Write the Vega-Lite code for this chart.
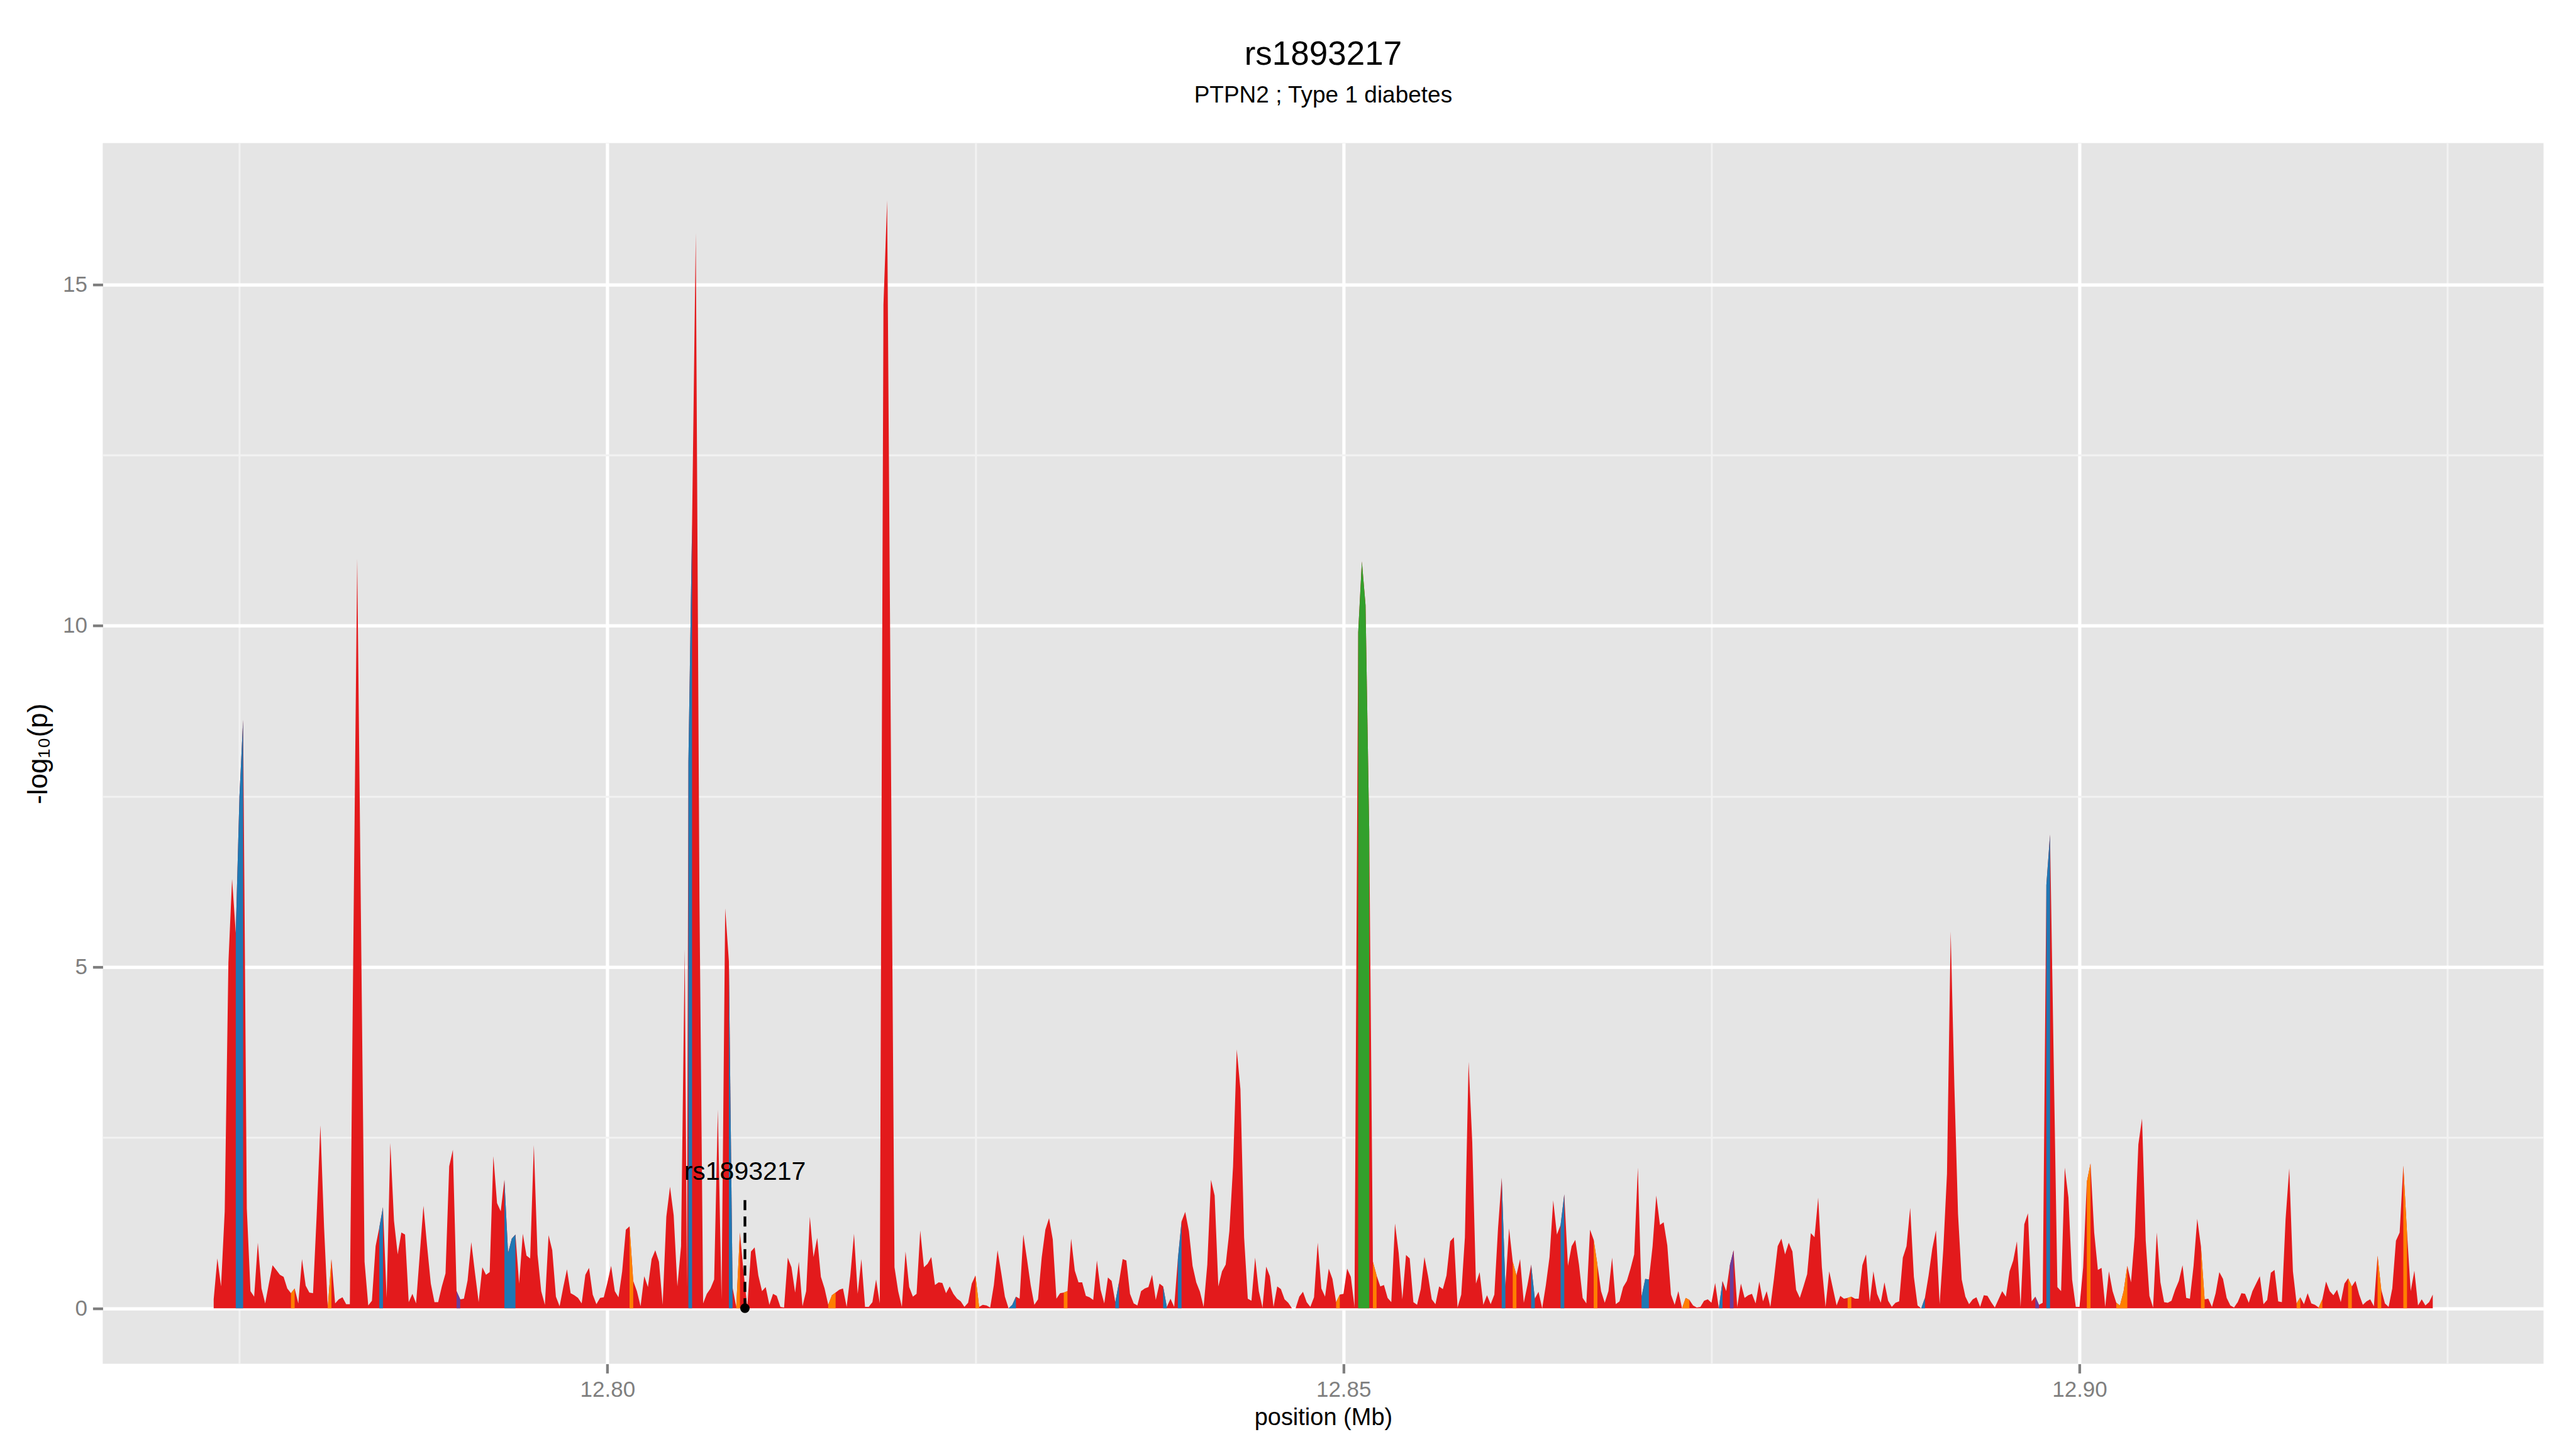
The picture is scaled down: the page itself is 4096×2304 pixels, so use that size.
{
"$schema": "https://vega.github.io/schema/vega-lite/v6.json",
"width": 3881, "height": 1941,
"autosize": {"type": "none"},
"padding": {"left": 163.4, "top": 227.6, "right": 51.3, "bottom": 135.2},
"background": "white",
"title": {"text": "rs1893217", "subtitle": "PTPN2 ; Type 1 diabetes", "anchor": "middle", "frame": "group", "font": "Liberation Sans", "fontSize": 53, "fontWeight": "normal", "color": "#000000", "subtitleFont": "Liberation Sans", "subtitleFontSize": 37, "subtitleColor": "#000000", "subtitlePadding": 20, "offset": 58},
"config": {"view": {"fill": "#E5E5E5", "stroke": null}, "font": "Liberation Sans"},
"datasets": {
"red": [
{"x":12.77325,"y":0.13},{"x":12.7735,"y":0.73},{"x":12.77375,"y":0.32},{"x":12.774,"y":1.42},{"x":12.77425,"y":5.06},{"x":12.7745,"y":6.29},{"x":12.77475,"y":5.5},{"x":12.775,"y":7.5},{"x":12.77525,"y":8.62},{"x":12.7755,"y":1.46},{"x":12.77575,"y":0.25},{"x":12.776,"y":0.17},{"x":12.77625,"y":0.96},{"x":12.7765,"y":0.29},{"x":12.77675,"y":0.07},{"x":12.777,"y":0.36},{"x":12.77725,"y":0.63},{"x":12.7775,"y":0.56},{"x":12.77775,"y":0.49},{"x":12.778,"y":0.46},{"x":12.77825,"y":0.29},{"x":12.7785,"y":0.22},{"x":12.77875,"y":0.29},{"x":12.779,"y":0.07},{"x":12.77925,"y":0.72},{"x":12.7795,"y":0.33},{"x":12.77975,"y":0.23},{"x":12.78,"y":0.22},{"x":12.78025,"y":1.38},{"x":12.7805,"y":2.68},{"x":12.78075,"y":1.18},{"x":12.781,"y":0.01},{"x":12.78125,"y":0.72},{"x":12.7815,"y":0.07},{"x":12.78175,"y":0.13},{"x":12.782,"y":0.16},{"x":12.78225,"y":0.06},{"x":12.7825,"y":0.06},{"x":12.78275,"y":5.6},{"x":12.783,"y":10.98},{"x":12.78325,"y":5.8},{"x":12.7835,"y":0.68},{"x":12.78375,"y":0.04},{"x":12.784,"y":0.11},{"x":12.78425,"y":0.91},{"x":12.7845,"y":1.18},{"x":12.78475,"y":1.48},{"x":12.785,"y":0.15},{"x":12.78525,"y":2.42},{"x":12.7855,"y":1.28},{"x":12.78575,"y":0.79},{"x":12.786,"y":1.11},{"x":12.78625,"y":1.08},{"x":12.7865,"y":0.09},{"x":12.78675,"y":0.21},{"x":12.787,"y":0.07},{"x":12.78725,"y":0.79},{"x":12.7875,"y":1.5},{"x":12.78775,"y":0.91},{"x":12.788,"y":0.36},{"x":12.78825,"y":0.09},{"x":12.7885,"y":0.09},{"x":12.78875,"y":0.32},{"x":12.789,"y":0.51},{"x":12.78925,"y":2.08},{"x":12.7895,"y":2.32},{"x":12.78975,"y":0.25},{"x":12.79,"y":0.13},{"x":12.79025,"y":0.14},{"x":12.7905,"y":0.41},{"x":12.79075,"y":0.97},{"x":12.791,"y":0.52},{"x":12.79125,"y":0.09},{"x":12.7915,"y":0.6},{"x":12.79175,"y":0.49},{"x":12.792,"y":0.53},{"x":12.79225,"y":2.23},{"x":12.7925,"y":1.54},{"x":12.79275,"y":1.42},{"x":12.793,"y":1.88},{"x":12.79325,"y":0.81},{"x":12.7935,"y":1.02},{"x":12.79375,"y":1.08},{"x":12.794,"y":0.36},{"x":12.79425,"y":1.09},{"x":12.7945,"y":0.77},
{"x":12.79475,"y":0.73},{"x":12.795,"y":2.39},{"x":12.79525,"y":0.79},{"x":12.7955,"y":0.25},{"x":12.79575,"y":0.05},{"x":12.796,"y":1.07},{"x":12.79625,"y":0.85},{"x":12.7965,"y":0.17},{"x":12.79675,"y":0.03},{"x":12.797,"y":0.31},{"x":12.79725,"y":0.57},{"x":12.7975,"y":0.22},{"x":12.79775,"y":0.19},{"x":12.798,"y":0.15},{"x":12.79825,"y":0.07},{"x":12.7985,"y":0.49},{"x":12.79875,"y":0.59},{"x":12.799,"y":0.2},{"x":12.79925,"y":0.06},{"x":12.7995,"y":0.15},{"x":12.79975,"y":0.16},{"x":12.8,"y":0.38},{"x":12.80025,"y":0.62},{"x":12.8005,"y":0.25},{"x":12.80075,"y":0.16},{"x":12.801,"y":0.54},{"x":12.80125,"y":1.15},{"x":12.8015,"y":1.2},{"x":12.80175,"y":0.4},{"x":12.802,"y":0.25},{"x":12.80225,"y":0.03},{"x":12.8025,"y":0.47},{"x":12.80275,"y":0.31},{"x":12.803,"y":0.72},{"x":12.80325,"y":0.85},{"x":12.8035,"y":0.68},{"x":12.80375,"y":0.05},{"x":12.804,"y":1.34},{"x":12.80425,"y":1.78},{"x":12.8045,"y":1.36},{"x":12.80475,"y":0.32},{"x":12.805,"y":0.91},{"x":12.80525,"y":5.26},{"x":12.8054,"y":0.3},{"x":12.8055,"y":8.0},{"x":12.80575,"y":11.5},{"x":12.806,"y":15.75},{"x":12.80625,"y":6.0},{"x":12.8065,"y":0.07},{"x":12.80675,"y":0.21},{"x":12.807,"y":0.29},{"x":12.80725,"y":0.42},{"x":12.8075,"y":2.91},{"x":12.80775,"y":0.13},{"x":12.808,"y":5.86},{"x":12.80825,"y":5.08},{"x":12.8085,"y":0.3},{"x":12.80875,"y":0.02},{"x":12.809,"y":1.11},{"x":12.80925,"y":0.52},{"x":12.8095,"y":0.02},{"x":12.80975,"y":0.83},{"x":12.81,"y":0.89},{"x":12.81025,"y":0.48},{"x":12.8105,"y":0.25},{"x":12.81075,"y":0.31},{"x":12.811,"y":0.05},{"x":12.81125,"y":0.21},{"x":12.8115,"y":0.18},{"x":12.81175,"y":0.02},{"x":12.812,"y":0.01},{"x":12.81225,"y":0.74},{"x":12.8125,"y":0.6},{"x":12.81275,"y":0.23},{"x":12.813,"y":0.68},{"x":12.81325,"y":0.03},{"x":12.8135,"y":0.25},{"x":12.81375,"y":1.34},{"x":12.814,"y":0.75},{"x":12.81425,"y":1.03},{"x":12.8145,"y":0.46},{"x":12.81475,"y":0.29},{"x":12.815,"y":0.05},{"x":12.81525,"y":0.19},{"x":12.8155,"y":0.23},{"x":12.81575,"y":0.27},{"x":12.816,"y":0.29},{"x":12.81625,"y":0.02},{"x":12.8165,"y":0.48},{"x":12.81675,"y":1.09},{"x":12.817,"y":0.21},{"x":12.81725,"y":0.72},{"x":12.8175,"y":0.02},{"x":12.81775,"y":0.02},{"x":12.818,"y":0.09},{"x":12.81825,"y":0.42},{"x":12.8185,"y":0.07},{"x":12.81875,"y":14.7},{"x":12.819,"y":16.23},{"x":12.81925,"y":8.4},{"x":12.8195,"y":0.6},{"x":12.81975,"y":0.25},{"x":12.82,"y":0.02},{"x":12.82025,"y":0.83},{"x":12.8205,"y":0.31},{"x":12.82075,"y":0.17},{"x":12.821,"y":0.21},{"x":12.82125,"y":1.14},{"x":12.8215,"y":0.6},{"x":12.82175,"y":0.65},{"x":12.822,"y":0.75},{"x":12.82225,"y":0.34},{"x":12.8225,"y":0.38},{"x":12.82275,"y":0.37},{"x":12.823,"y":0.22},{"x":12.82325,"y":0.32},
{"x":12.8235,"y":0.21},{"x":12.82375,"y":0.14},{"x":12.824,"y":0.1},{"x":12.82425,"y":0.02},{"x":12.8245,"y":0.08},{"x":12.82475,"y":0.36},{"x":12.825,"y":0.48},{"x":12.82525,"y":0.02},{"x":12.8255,"y":0.05},{"x":12.82575,"y":0.04},{"x":12.826,"y":0.01},{"x":12.82625,"y":0.34},{"x":12.8265,"y":0.85},{"x":12.82675,"y":0.52},{"x":12.827,"y":0.17},{"x":12.82725,"y":0.0},{"x":12.8275,"y":0.05},{"x":12.82775,"y":0.17},{"x":12.828,"y":0.14},{"x":12.82825,"y":1.08},{"x":12.8285,"y":0.72},{"x":12.82875,"y":0.34},{"x":12.829,"y":0.05},{"x":12.82925,"y":0.13},{"x":12.8295,"y":0.74},{"x":12.82975,"y":1.15},{"x":12.83,"y":1.32},{"x":12.83025,"y":1.01},{"x":12.8305,"y":0.14},{"x":12.83075,"y":0.22},{"x":12.831,"y":0.23},{"x":12.83125,"y":0.25},{"x":12.8315,"y":1.02},{"x":12.83175,"y":0.55},{"x":12.832,"y":0.38},{"x":12.83225,"y":0.38},{"x":12.8325,"y":0.18},{"x":12.83275,"y":0.16},{"x":12.833,"y":0.12},{"x":12.83325,"y":0.7},{"x":12.8335,"y":0.27},{"x":12.83375,"y":0.07},{"x":12.834,"y":0.45},{"x":12.83425,"y":0.4},{"x":12.8345,"y":0.09},{"x":12.83475,"y":0.38},{"x":12.835,"y":0.72},{"x":12.83525,"y":0.7},{"x":12.8355,"y":0.21},{"x":12.83575,"y":0.07},{"x":12.836,"y":0.04},{"x":12.83625,"y":0.25},{"x":12.8365,"y":0.29},{"x":12.83675,"y":0.31},{"x":12.837,"y":0.49},{"x":12.83725,"y":0.12},{"x":12.8375,"y":0.36},{"x":12.83775,"y":0.32},{"x":12.838,"y":0.02},{"x":12.83825,"y":0.14},{"x":12.8385,"y":0.02},{"x":12.83875,"y":0.72},{"x":12.839,"y":1.27},{"x":12.83925,"y":1.41},{"x":12.8395,"y":1.13},{"x":12.83975,"y":0.62},{"x":12.84,"y":0.38},{"x":12.84025,"y":0.24},{"x":12.8405,"y":0.02},{"x":12.84075,"y":0.64},{"x":12.841,"y":1.88},{"x":12.84125,"y":1.65},{"x":12.8415,"y":0.32},{"x":12.84175,"y":0.54},{"x":12.842,"y":0.64},{"x":12.84225,"y":1.13},{"x":12.8425,"y":2.08},{"x":12.84275,"y":3.79},{"x":12.843,"y":3.21},{"x":12.84325,"y":1.04},{"x":12.8435,"y":0.14},{"x":12.84375,"y":0.11},{"x":12.844,"y":0.74},{"x":12.84425,"y":0.25},{"x":12.8445,"y":0.01},{"x":12.84475,"y":0.61},{"x":12.845,"y":0.47},{"x":12.84525,"y":0.02},{"x":12.8455,"y":0.32},{"x":12.84575,"y":0.28},{"x":12.846,"y":0.13},{"x":12.84625,"y":0.08},{"x":12.8465,"y":0.0},{"x":12.84675,"y":0.0},{"x":12.847,"y":0.17},{"x":12.84725,"y":0.24},{"x":12.8475,"y":0.09},{"x":12.84775,"y":0.02},{"x":12.848,"y":0.16},{"x":12.84825,"y":0.96},{"x":12.8485,"y":0.29},{"x":12.84875,"y":0.17},{"x":12.849,"y":0.58},{"x":12.84925,"y":0.43},{"x":12.8495,"y":0.09},{"x":12.84975,"y":0.2},{"x":12.85,"y":0.21},{"x":12.85025,"y":0.58},{"x":12.8505,"y":0.46},{"x":12.85075,"y":0.02},{"x":12.851,"y":9.9},{"x":12.85125,"y":10.94},{"x":12.8515,"y":10.3},{"x":12.85175,"y":7.0},{"x":12.852,"y":0.68},{"x":12.85225,"y":0.48},
{"x":12.8525,"y":0.32},{"x":12.85275,"y":0.34},{"x":12.853,"y":0.15},{"x":12.85325,"y":0.09},{"x":12.8535,"y":1.24},{"x":12.85375,"y":0.81},{"x":12.854,"y":0.13},{"x":12.85425,"y":0.78},{"x":12.8545,"y":0.73},{"x":12.85475,"y":0.09},{"x":12.855,"y":0.05},{"x":12.85525,"y":0.28},{"x":12.8555,"y":0.75},{"x":12.85575,"y":0.47},{"x":12.856,"y":0.13},{"x":12.85625,"y":0.06},{"x":12.8565,"y":0.32},{"x":12.85675,"y":0.28},{"x":12.857,"y":0.48},{"x":12.85725,"y":0.98},{"x":12.8575,"y":1.04},{"x":12.85775,"y":0.01},{"x":12.858,"y":0.2},{"x":12.85825,"y":1.04},{"x":12.8585,"y":3.61},{"x":12.85875,"y":2.43},{"x":12.859,"y":0.36},{"x":12.85925,"y":0.53},{"x":12.8595,"y":0.05},{"x":12.85975,"y":0.19},{"x":12.86,"y":0.06},{"x":12.86025,"y":0.2},{"x":12.8605,"y":1.17},{"x":12.86075,"y":1.91},{"x":12.861,"y":0.32},{"x":12.86125,"y":1.17},{"x":12.8615,"y":0.68},{"x":12.86175,"y":0.48},{"x":12.862,"y":0.72},{"x":12.86225,"y":0.08},{"x":12.8625,"y":0.34},{"x":12.86275,"y":0.64},{"x":12.863,"y":0.14},{"x":12.86325,"y":0.24},{"x":12.8635,"y":0.0},{"x":12.86375,"y":0.34},{"x":12.864,"y":0.75},{"x":12.86425,"y":1.58},{"x":12.8645,"y":1.08},{"x":12.86475,"y":1.22},{"x":12.865,"y":1.67},{"x":12.86525,"y":0.62},{"x":12.8655,"y":0.91},{"x":12.86575,"y":1.0},{"x":12.866,"y":0.64},{"x":12.86625,"y":0.15},{"x":12.8665,"y":0.07},{"x":12.86675,"y":1.15},{"x":12.867,"y":1.0},{"x":12.86725,"y":0.64},{"x":12.8675,"y":0.25},{"x":12.86775,"y":0.08},{"x":12.868,"y":0.25},{"x":12.86825,"y":0.74},{"x":12.8685,"y":0.06},{"x":12.86875,"y":0.1},{"x":12.869,"y":0.31},{"x":12.86925,"y":0.4},{"x":12.8695,"y":0.58},{"x":12.86975,"y":0.79},{"x":12.87,"y":2.06},{"x":12.87025,"y":0.17},{"x":12.8705,"y":0.43},{"x":12.87075,"y":0.42},{"x":12.871,"y":0.91},{"x":12.87125,"y":1.65},{"x":12.8715,"y":1.22},{"x":12.87175,"y":1.26},{"x":12.872,"y":0.92},{"x":12.87225,"y":0.2},{"x":12.8725,"y":0.05},{"x":12.87275,"y":0.25},{"x":12.873,"y":0.0},{"x":12.87325,"y":0.15},{"x":12.8735,"y":0.12},{"x":12.87375,"y":0.04},{"x":12.874,"y":0.01},{"x":12.87425,"y":0.02},{"x":12.8745,"y":0.11},{"x":12.87475,"y":0.13},{"x":12.875,"y":0.08},{"x":12.87525,"y":0.37},{"x":12.8755,"y":0.0},{"x":12.87575,"y":0.4},{"x":12.876,"y":0.25},{"x":12.87625,"y":0.63},{"x":12.8765,"y":0.85},{"x":12.87675,"y":0.02},{"x":12.877,"y":0.36},{"x":12.87725,"y":0.15},{"x":12.8775,"y":0.19},{"x":12.87775,"y":0.21},{"x":12.878,"y":0.07},{"x":12.87825,"y":0.39},{"x":12.8785,"y":0.1},{"x":12.87875,"y":0.25},{"x":12.879,"y":0.02},{"x":12.87925,"y":0.44},{"x":12.8795,"y":0.91},{"x":12.87975,"y":1.02},{"x":12.88,"y":0.79},{"x":12.88025,"y":0.96},{"x":12.8805,"y":0.83},{"x":12.88075,"y":0.27},{"x":12.881,"y":0.15},
{"x":12.88125,"y":0.32},{"x":12.8815,"y":0.5},{"x":12.88175,"y":1.1},{"x":12.882,"y":1.04},{"x":12.88225,"y":1.62},{"x":12.8825,"y":0.6},{"x":12.88275,"y":0.02},{"x":12.883,"y":0.54},{"x":12.88325,"y":0.29},{"x":12.8835,"y":0.04},{"x":12.88375,"y":0.18},{"x":12.884,"y":0.14},{"x":12.88425,"y":0.15},{"x":12.8845,"y":0.17},{"x":12.88475,"y":0.14},{"x":12.885,"y":0.14},{"x":12.88525,"y":0.63},{"x":12.8855,"y":0.79},{"x":12.88575,"y":0.09},{"x":12.886,"y":0.54},{"x":12.88625,"y":0.21},{"x":12.8865,"y":0.08},{"x":12.88675,"y":0.38},{"x":12.887,"y":0.11},{"x":12.88725,"y":0.02},{"x":12.8875,"y":0.08},{"x":12.88775,"y":0.1},{"x":12.888,"y":0.74},{"x":12.88825,"y":0.91},{"x":12.8885,"y":1.47},{"x":12.88875,"y":0.46},{"x":12.889,"y":0.04},{"x":12.88925,"y":0.0},{"x":12.8895,"y":0.15},{"x":12.88975,"y":0.48},{"x":12.89,"y":0.87},{"x":12.89025,"y":1.14},{"x":12.8905,"y":0.06},{"x":12.89075,"y":0.87},{"x":12.891,"y":1.97},{"x":12.89125,"y":5.52},{"x":12.8915,"y":3.26},{"x":12.89175,"y":1.38},{"x":12.892,"y":0.42},{"x":12.89225,"y":0.17},{"x":12.8925,"y":0.06},{"x":12.89275,"y":0.13},{"x":12.893,"y":0.16},{"x":12.89325,"y":0.02},{"x":12.8935,"y":0.19},{"x":12.89375,"y":0.18},{"x":12.894,"y":0.09},{"x":12.89425,"y":0.01},{"x":12.8945,"y":0.13},{"x":12.89475,"y":0.25},{"x":12.895,"y":0.17},{"x":12.89525,"y":0.54},{"x":12.8955,"y":0.7},{"x":12.89575,"y":0.98},{"x":12.896,"y":0.02},{"x":12.89625,"y":1.23},{"x":12.8965,"y":1.39},{"x":12.89675,"y":0.1},{"x":12.897,"y":0.17},{"x":12.89725,"y":0.05},{"x":12.8975,"y":0.08},{"x":12.89775,"y":6.2},{"x":12.898,"y":6.94},{"x":12.89825,"y":3.6},{"x":12.8985,"y":0.31},{"x":12.89875,"y":0.25},{"x":12.899,"y":2.06},{"x":12.89925,"y":1.62},{"x":12.8995,"y":0.42},{"x":12.89975,"y":0.02},{"x":12.9,"y":0.02},{"x":12.90025,"y":0.6},{"x":12.9005,"y":1.85},{"x":12.90075,"y":2.12},{"x":12.901,"y":1.11},{"x":12.90125,"y":0.56},{"x":12.9015,"y":0.59},{"x":12.90175,"y":0.02},{"x":12.902,"y":0.54},{"x":12.90225,"y":0.25},{"x":12.9025,"y":0.08},{"x":12.90275,"y":0.04},{"x":12.903,"y":0.25},{"x":12.90325,"y":0.62},{"x":12.9035,"y":0.38},{"x":12.90375,"y":1.05},{"x":12.904,"y":2.4},{"x":12.90425,"y":2.78},{"x":12.9045,"y":0.99},{"x":12.90475,"y":0.18},{"x":12.905,"y":0.01},{"x":12.90525,"y":1.11},{"x":12.9055,"y":0.38},{"x":12.90575,"y":0.09},{"x":12.906,"y":0.08},{"x":12.90625,"y":0.11},{"x":12.9065,"y":0.27},{"x":12.90675,"y":0.4},{"x":12.907,"y":0.63},{"x":12.90725,"y":0.15},{"x":12.9075,"y":0.14},{"x":12.90775,"y":0.62},{"x":12.908,"y":1.31},{"x":12.90825,"y":0.91},{"x":12.9085,"y":0.13},{"x":12.90875,"y":0.14},{"x":12.909,"y":0.02},{"x":12.90925,"y":0.22},{"x":12.9095,"y":0.53},{"x":12.90975,"y":0.43},
{"x":12.91,"y":0.15},{"x":12.91025,"y":0.04},{"x":12.9105,"y":0.01},{"x":12.91075,"y":0.09},{"x":12.911,"y":0.22},{"x":12.91125,"y":0.21},{"x":12.9115,"y":0.08},{"x":12.91175,"y":0.25},{"x":12.912,"y":0.36},{"x":12.91225,"y":0.47},{"x":12.9125,"y":0.06},{"x":12.91275,"y":0.12},{"x":12.913,"y":0.52},{"x":12.91325,"y":0.56},{"x":12.9135,"y":0.1},{"x":12.91375,"y":0.09},{"x":12.914,"y":1.3},{"x":12.91425,"y":2.05},{"x":12.9145,"y":0.54},{"x":12.91475,"y":0.07},{"x":12.915,"y":0.16},{"x":12.91525,"y":0.06},{"x":12.9155,"y":0.22},{"x":12.91575,"y":0.07},{"x":12.916,"y":0.05},{"x":12.91625,"y":0.01},{"x":12.9165,"y":0.13},{"x":12.91675,"y":0.39},{"x":12.917,"y":0.25},{"x":12.91725,"y":0.19},{"x":12.9175,"y":0.27},{"x":12.91775,"y":0.09},{"x":12.918,"y":0.36},{"x":12.91825,"y":0.44},{"x":12.9185,"y":0.32},{"x":12.91875,"y":0.4},{"x":12.919,"y":0.2},{"x":12.91925,"y":0.05},{"x":12.9195,"y":0.1},{"x":12.91975,"y":0.13},{"x":12.92,"y":0.03},{"x":12.92025,"y":0.77},{"x":12.9205,"y":0.27},{"x":12.92075,"y":0.07},{"x":12.921,"y":0.02},{"x":12.92125,"y":0.29},{"x":12.9215,"y":0.99},{"x":12.92175,"y":1.11},{"x":12.922,"y":2.09},{"x":12.92225,"y":1.11},{"x":12.9225,"y":0.25},{"x":12.92275,"y":0.55},{"x":12.923,"y":0.04},{"x":12.92325,"y":0.13},{"x":12.9235,"y":0.04},{"x":12.92375,"y":0.09},{"x":12.924,"y":0.2}
],
"strips": [
{"s":1,"c":"blue","x":12.77475,"y":5.5},{"s":1,"c":"blue","x":12.775,"y":7.5},{"s":1,"c":"blue","x":12.77525,"y":8.62},
{"s":2,"c":"orange","x":12.7785,"y":0.22},{"s":2,"c":"orange","x":12.77875,"y":0.29},
{"s":3,"c":"orange","x":12.781,"y":0.01},{"s":3,"c":"orange","x":12.78125,"y":0.72},
{"s":4,"c":"blue","x":12.7845,"y":1.18},{"s":4,"c":"blue","x":12.78475,"y":1.48},
{"s":5,"c":"purple","x":12.78975,"y":0.25},{"s":5,"c":"purple","x":12.79,"y":0.13},
{"s":6,"c":"blue","x":12.793,"y":1.88},{"s":6,"c":"blue","x":12.79325,"y":0.81},{"s":6,"c":"blue","x":12.7935,"y":1.02},{"s":6,"c":"blue","x":12.79375,"y":1.08},
{"s":7,"c":"orange","x":12.8015,"y":1.2},{"s":7,"c":"orange","x":12.80175,"y":0.4},
{"s":8,"c":"blue","x":12.8055,"y":8.0},{"s":8,"c":"blue","x":12.80575,"y":11.5},
{"s":9,"c":"blue","x":12.80825,"y":5.08},{"s":9,"c":"blue","x":12.8085,"y":0.3},
{"s":10,"c":"orange","x":12.80875,"y":0.02},{"s":10,"c":"orange","x":12.809,"y":1.11},
{"s":11,"c":"orange","x":12.815,"y":0.05},{"s":11,"c":"orange","x":12.81525,"y":0.19},{"s":11,"c":"orange","x":12.8155,"y":0.23},
{"s":14,"c":"orange","x":12.825,"y":0.48},{"s":14,"c":"orange","x":12.82525,"y":0.02},
{"s":15,"c":"blue","x":12.82725,"y":0.0},{"s":15,"c":"blue","x":12.8275,"y":0.05},{"s":15,"c":"blue","x":12.82775,"y":0.17},
{"s":16,"c":"orange","x":12.831,"y":0.23},{"s":16,"c":"orange","x":12.83125,"y":0.25},
{"s":17,"c":"blue","x":12.8345,"y":0.09},{"s":17,"c":"blue","x":12.83475,"y":0.38},
{"s":18,"c":"blue","x":12.83775,"y":0.32},{"s":18,"c":"blue","x":12.838,"y":0.02},
{"s":19,"c":"blue","x":12.83875,"y":0.72},{"s":19,"c":"blue","x":12.839,"y":1.27},
{"s":20,"c":"orange","x":12.8495,"y":0.09},{"s":20,"c":"orange","x":12.84975,"y":0.2},
{"s":21,"c":"green","x":12.851,"y":9.9},{"s":21,"c":"green","x":12.85125,"y":10.94},{"s":21,"c":"green","x":12.8515,"y":10.3},{"s":21,"c":"green","x":12.85175,"y":7.0},
{"s":22,"c":"orange","x":12.852,"y":0.68},{"s":22,"c":"orange","x":12.85225,"y":0.48},
{"s":23,"c":"blue","x":12.86075,"y":1.91},{"s":23,"c":"blue","x":12.861,"y":0.32},
{"s":24,"c":"orange","x":12.8615,"y":0.68},{"s":24,"c":"orange","x":12.86175,"y":0.48},
{"s":25,"c":"blue","x":12.86275,"y":0.64},{"s":25,"c":"blue","x":12.863,"y":0.14},
{"s":26,"c":"blue","x":12.86475,"y":1.22},{"s":26,"c":"blue","x":12.865,"y":1.67},
{"s":27,"c":"orange","x":12.867,"y":1.0},{"s":27,"c":"orange","x":12.86725,"y":0.64},
{"s":28,"c":"blue","x":12.87025,"y":0.17},{"s":28,"c":"blue","x":12.8705,"y":0.43},{"s":28,"c":"blue","x":12.87075,"y":0.42},
{"s":29,"c":"orange","x":12.873,"y":0.0},{"s":29,"c":"orange","x":12.87325,"y":0.15},{"s":29,"c":"orange","x":12.8735,"y":0.12},
{"s":30,"c":"blue","x":12.8755,"y":0.0},{"s":30,"c":"blue","x":12.87575,"y":0.4},
{"s":31,"c":"purple","x":12.87625,"y":0.63},{"s":31,"c":"purple","x":12.8765,"y":0.85},
{"s":32,"c":"orange","x":12.88425,"y":0.15},{"s":32,"c":"orange","x":12.8845,"y":0.17},
{"s":33,"c":"blue","x":12.88925,"y":0.0},{"s":33,"c":"blue","x":12.8895,"y":0.15},
{"s":34,"c":"purple","x":12.897,"y":0.17},{"s":34,"c":"purple","x":12.89725,"y":0.05},
{"s":35,"c":"blue","x":12.89775,"y":6.2},{"s":35,"c":"blue","x":12.898,"y":6.94},
{"s":36,"c":"orange","x":12.9005,"y":1.85},{"s":36,"c":"orange","x":12.90075,"y":2.12},
{"s":37,"c":"orange","x":12.9025,"y":0.08},{"s":37,"c":"orange","x":12.90275,"y":0.04},{"s":37,"c":"orange","x":12.903,"y":0.25},{"s":37,"c":"orange","x":12.90325,"y":0.62},
{"s":38,"c":"orange","x":12.90825,"y":0.91},{"s":38,"c":"orange","x":12.9085,"y":0.13},
{"s":39,"c":"orange","x":12.91475,"y":0.07},{"s":39,"c":"orange","x":12.915,"y":0.16},
{"s":40,"c":"orange","x":12.91625,"y":0.01},{"s":40,"c":"orange","x":12.9165,"y":0.13},
{"s":41,"c":"orange","x":12.91825,"y":0.44},{"s":41,"c":"orange","x":12.9185,"y":0.32},
{"s":42,"c":"orange","x":12.92025,"y":0.77},{"s":42,"c":"orange","x":12.9205,"y":0.27},
{"s":43,"c":"orange","x":12.922,"y":2.09},{"s":43,"c":"orange","x":12.92225,"y":1.11}
],
"snp": [{"x":12.80934,"y":0,"top":1.62,"label":"rs1893217"}]
},
"layer": [
{
"data": {"name": "red"},
"mark": {"type": "area", "color": "#E31A1C", "interpolate": "linear"},
"encoding": {
"x": {"field": "x", "type": "quantitative", "title": "position (Mb)", "scale": {"domain": [12.765715, 12.931525], "nice": false, "zero": false},
 "axis": {"title": "position (Mb)", "values": [12.775,12.8,12.825,12.85,12.875,12.9,12.925],
  "labelExpr": "abs(datum.value*20 - round(datum.value*20)) < 0.01 ? format(datum.value, '.2f') : ''",
  "domain": false, "grid": true,
  "gridColor": {"condition": {"test": "abs(datum.value*20 - round(datum.value*20)) < 0.01", "value": "#FFFFFF"}, "value": "#F2F2F2"},
  "gridWidth": {"condition": {"test": "abs(datum.value*20 - round(datum.value*20)) < 0.01", "value": 5.2}, "value": 3},
  "ticks": true, "tickColor": "#7F7F7F", "tickSize": 14.8, "tickWidth": 4.3,
  "tickOpacity": {"condition": {"test": "abs(datum.value*20 - round(datum.value*20)) < 0.01", "value": 1}, "value": 0},
  "labelColor": "#7F7F7F", "labelFont": "Liberation Sans", "labelFontSize": 35, "labelPadding": 9, "labelFlush": false, "labelOverlap": false,
  "titleFont": "Liberation Sans", "titleFontSize": 38, "titleFontWeight": "normal", "titleColor": "#000000", "titleY": 97, "titleBaseline": "alphabetic"}},
"y": {"field": "y", "type": "quantitative", "title": "-log₁₀(p)", "scale": {"domain": [-0.815, 17.07], "nice": false, "zero": false},
 "axis": {"title": "-log₁₀(p)", "values": [0,2.5,5,7.5,10,12.5,15],
  "labelExpr": "datum.value % 5 == 0 ? format(datum.value, 'd') : ''",
  "domain": false, "grid": true,
  "gridColor": {"condition": {"test": "datum.value % 5 == 0", "value": "#FFFFFF"}, "value": "#F2F2F2"},
  "gridWidth": {"condition": {"test": "datum.value % 5 == 0", "value": 5.2}, "value": 3},
  "ticks": true, "tickColor": "#7F7F7F", "tickSize": 16, "tickWidth": 4.3,
  "tickOpacity": {"condition": {"test": "datum.value % 5 == 0", "value": 1}, "value": 0},
  "labelColor": "#7F7F7F", "labelFont": "Liberation Sans", "labelFontSize": 35, "labelPadding": 9, "labelOverlap": false,
  "titleFont": "Liberation Sans", "titleFontSize": 44, "titleFontWeight": "normal", "titleColor": "#000000",
  "titleX": -102, "titleY": 970.6, "titleAngle": 270, "titleAlign": "center", "titleBaseline": "middle"}},
"y2": {"datum": 0}
}
},
{
"data": {"name": "strips"},
"mark": {"type": "area", "interpolate": "linear"},
"encoding": {
"x": {"field": "x", "type": "quantitative", "title": "position (Mb)", "scale": {"domain": [12.765715, 12.931525], "nice": false, "zero": false}},
"y": {"field": "y", "type": "quantitative", "title": "-log₁₀(p)", "scale": {"domain": [-0.815, 17.07], "nice": false, "zero": false}},
"y2": {"datum": 0},
"detail": {"field": "s", "type": "nominal"},
"color": {"field": "c", "type": "nominal", "scale": {"domain": ["blue", "orange", "green", "purple"], "range": ["#1F78B4", "#FF7F00", "#33A02C", "#6A3D9A"]}, "legend": null}
}
},
{
"data": {"name": "snp"},
"mark": {"type": "rule", "color": "#000000", "strokeWidth": 4.3, "strokeDash": [16, 10]},
"encoding": {
"x": {"field": "x", "type": "quantitative", "title": "position (Mb)", "scale": {"domain": [12.765715, 12.931525], "nice": false, "zero": false}},
"y": {"field": "y", "type": "quantitative", "title": "-log₁₀(p)", "scale": {"domain": [-0.815, 17.07], "nice": false, "zero": false}},
"y2": {"field": "top"}
}
},
{
"data": {"name": "snp"},
"mark": {"type": "point", "filled": true, "color": "#000000", "opacity": 1, "size": 227},
"encoding": {
"x": {"field": "x", "type": "quantitative", "title": "position (Mb)", "scale": {"domain": [12.765715, 12.931525], "nice": false, "zero": false}},
"y": {"field": "y", "type": "quantitative", "title": "-log₁₀(p)", "scale": {"domain": [-0.815, 17.07], "nice": false, "zero": false}}
}
},
{
"data": {"name": "snp"},
"mark": {"type": "text", "color": "#000000", "font": "Liberation Sans", "fontSize": 41, "align": "center", "baseline": "alphabetic", "dy": -28},
"encoding": {
"x": {"field": "x", "type": "quantitative", "title": "position (Mb)", "scale": {"domain": [12.765715, 12.931525], "nice": false, "zero": false}},
"y": {"field": "top", "type": "quantitative", "title": "-log₁₀(p)", "scale": {"domain": [-0.815, 17.07], "nice": false, "zero": false}},
"text": {"field": "label"}
}
}
]
}
